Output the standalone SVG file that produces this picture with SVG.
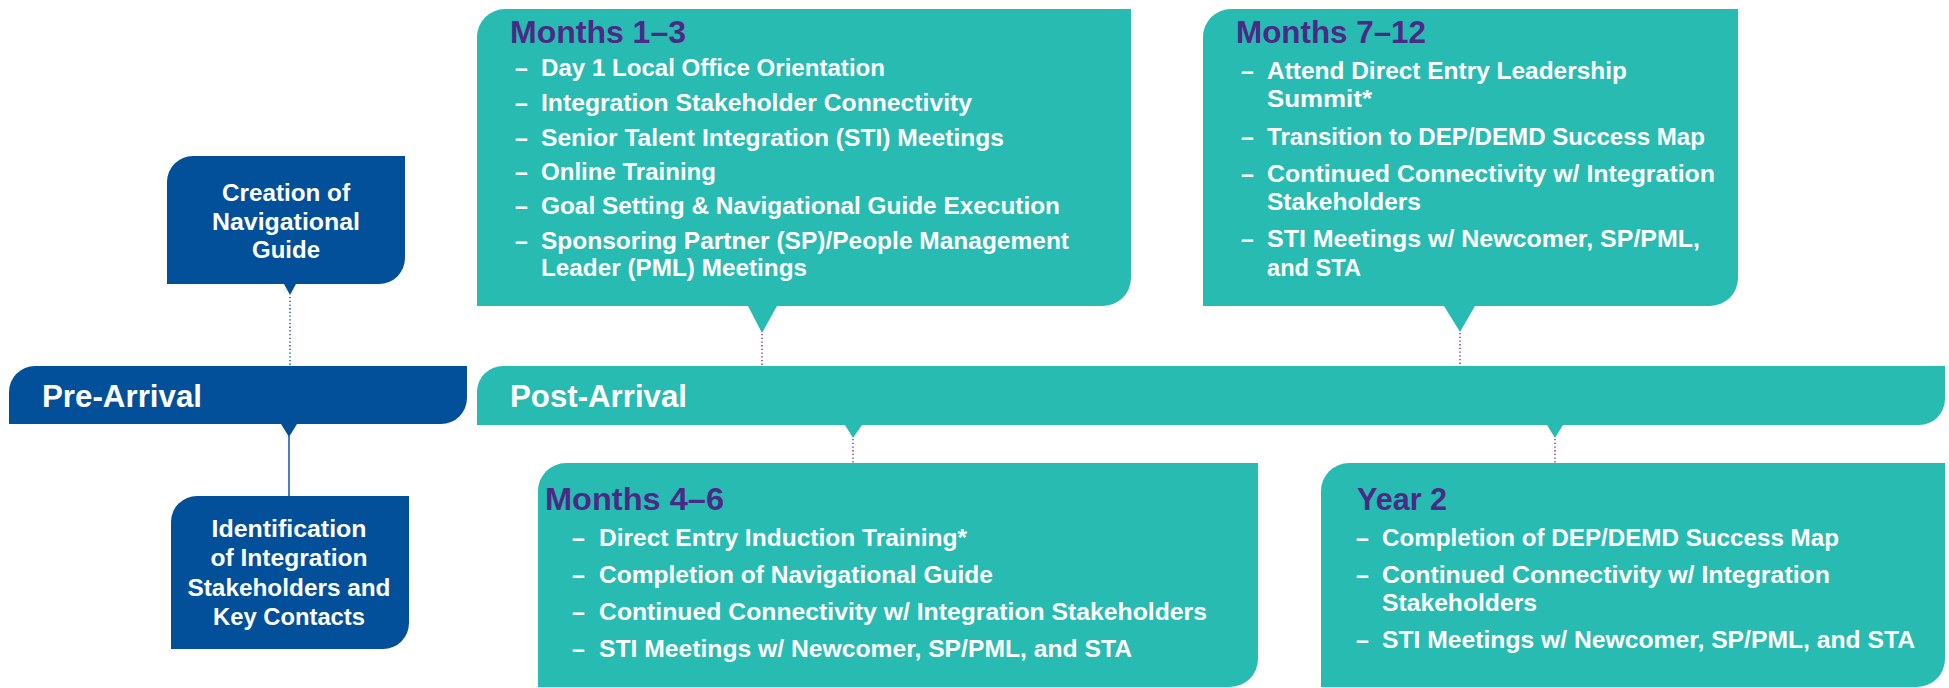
<svg xmlns="http://www.w3.org/2000/svg" width="1949" height="688" viewBox="0 0 1949 688">
<style>
.blue{fill:#02509A}
.teal{fill:#28BBB2}
.t{font-family:"Liberation Sans",Arial,sans-serif;font-weight:bold;fill:#fff}
.h{font-family:"Liberation Sans",Arial,sans-serif;font-weight:bold;font-size:32px;fill:#4B2A87}
.b{font-size:23px}
.c{font-size:24px;text-anchor:middle}
.bar{font-size:31px}
.dotb{stroke:#1F63B0;stroke-width:1.6;stroke-dasharray:1.3 2.4;fill:none}
.dotp{stroke:#8B3FA0;stroke-width:1.6;stroke-dasharray:1.3 2.4;fill:none}
.solid{stroke:#1F5FA8;stroke-width:1.6;fill:none}
</style>
<rect width="1949" height="688" fill="#fff"/>
<g id="connectors">
<line class="dotb" x1="290" y1="297" x2="290" y2="366"/>
<line class="solid" x1="289" y1="436" x2="289" y2="496"/>
<line class="dotp" x1="762" y1="334" x2="762" y2="366"/>
<line class="dotp" x1="1460" y1="333" x2="1460" y2="366"/>
<line class="dotp" x1="853" y1="439" x2="853" y2="463"/>
<line class="dotp" x1="1555" y1="439" x2="1555" y2="463"/>
</g>
<g id="creation">
<path class="blue" d="M167,182 A26,26 0 0 1 193,156 H405 V258 A26,26 0 0 1 379,284 H296 L290,295 L284,284 H167 Z"/>
<text class="t c" x="286" y="201" textLength="128" lengthAdjust="spacingAndGlyphs">Creation of</text>
<text class="t c" x="286" y="230" textLength="148" lengthAdjust="spacingAndGlyphs">Navigational</text>
<text class="t c" x="286" y="258" textLength="68" lengthAdjust="spacingAndGlyphs">Guide</text>
</g>
<g id="pre-arrival">
<path class="blue" d="M9,392 A26,26 0 0 1 35,366 H467 V398 A26,26 0 0 1 441,424 H297 L289,437 L281,424 H9 Z"/>
<text class="t bar" x="42" y="407" textLength="160" lengthAdjust="spacingAndGlyphs">Pre-Arrival</text>
</g>
<g id="identification">
<path class="blue" d="M171,522 A26,26 0 0 1 197,496 H409 V623 A26,26 0 0 1 383,649 H171 Z"/>
<text class="t c" x="289" y="537" textLength="155" lengthAdjust="spacingAndGlyphs">Identification</text>
<text class="t c" x="289" y="566" textLength="157" lengthAdjust="spacingAndGlyphs">of Integration</text>
<text class="t c" x="289" y="596" textLength="203" lengthAdjust="spacingAndGlyphs">Stakeholders and</text>
<text class="t c" x="289" y="625" textLength="152" lengthAdjust="spacingAndGlyphs">Key Contacts</text>
</g>
<g id="post-arrival">
<path class="teal" d="M477,392 A26,26 0 0 1 503,366 H1945 V399 A26,26 0 0 1 1919,425 H1563 L1555,438 L1547,425 H862 L853,438 L845,425 H477 Z"/>
<text class="t bar" x="510" y="407" textLength="177" lengthAdjust="spacingAndGlyphs">Post-Arrival</text>
</g>
<g id="months-1-3">
<path class="teal" d="M477,37 A28,28 0 0 1 505,9 H1131 V278 A28,28 0 0 1 1103,306 H777 L762,333 L748,306 H477 Z"/>
<text class="h" x="510" y="43" textLength="176" lengthAdjust="spacingAndGlyphs">Months 1–3</text>
<g class="t b">
<text x="515" y="76">–</text><text x="541" y="76" textLength="344" lengthAdjust="spacingAndGlyphs">Day 1 Local Office Orientation</text>
<text x="515" y="111">–</text><text x="541" y="111" textLength="431" lengthAdjust="spacingAndGlyphs">Integration Stakeholder Connectivity</text>
<text x="515" y="146">–</text><text x="541" y="146" textLength="463" lengthAdjust="spacingAndGlyphs">Senior Talent Integration (STI) Meetings</text>
<text x="515" y="180">–</text><text x="541" y="180" textLength="175" lengthAdjust="spacingAndGlyphs">Online Training</text>
<text x="515" y="214">–</text><text x="541" y="214" textLength="519" lengthAdjust="spacingAndGlyphs">Goal Setting &amp; Navigational Guide Execution</text>
<text x="515" y="249">–</text><text x="541" y="249" textLength="528" lengthAdjust="spacingAndGlyphs">Sponsoring Partner (SP)/People Management</text>
<text x="541" y="276" textLength="266" lengthAdjust="spacingAndGlyphs">Leader (PML) Meetings</text>
</g>
</g>
<g id="months-7-12">
<path class="teal" d="M1203,37 A28,28 0 0 1 1231,9 H1738 V278 A28,28 0 0 1 1710,306 H1475 L1460,332 L1444,306 H1203 Z"/>
<text class="h" x="1236" y="43" textLength="190" lengthAdjust="spacingAndGlyphs">Months 7–12</text>
<g class="t b">
<text x="1241" y="79">–</text><text x="1267" y="79" textLength="360" lengthAdjust="spacingAndGlyphs">Attend Direct Entry Leadership</text>
<text x="1267" y="107" textLength="105" lengthAdjust="spacingAndGlyphs">Summit*</text>
<text x="1241" y="145">–</text><text x="1267" y="145" textLength="438" lengthAdjust="spacingAndGlyphs">Transition to DEP/DEMD Success Map</text>
<text x="1241" y="182">–</text><text x="1267" y="182" textLength="448" lengthAdjust="spacingAndGlyphs">Continued Connectivity w/ Integration</text>
<text x="1267" y="210" textLength="154" lengthAdjust="spacingAndGlyphs">Stakeholders</text>
<text x="1241" y="247">–</text><text x="1267" y="247" textLength="433" lengthAdjust="spacingAndGlyphs">STI Meetings w/ Newcomer, SP/PML,</text>
<text x="1267" y="276" textLength="94" lengthAdjust="spacingAndGlyphs">and STA</text>
</g>
</g>
<g id="months-4-6">
<path class="teal" d="M538,491 A28,28 0 0 1 566,463 H1258 V659 A28,28 0 0 1 1230,687 H538 Z"/>
<text class="h" x="545" y="510" textLength="179" lengthAdjust="spacingAndGlyphs">Months 4–6</text>
<g class="t b">
<text x="572" y="546">–</text><text x="599" y="546" textLength="368" lengthAdjust="spacingAndGlyphs">Direct Entry Induction Training*</text>
<text x="572" y="583">–</text><text x="599" y="583" textLength="394" lengthAdjust="spacingAndGlyphs">Completion of Navigational Guide</text>
<text x="572" y="620">–</text><text x="599" y="620" textLength="608" lengthAdjust="spacingAndGlyphs">Continued Connectivity w/ Integration Stakeholders</text>
<text x="572" y="657">–</text><text x="599" y="657" textLength="533" lengthAdjust="spacingAndGlyphs">STI Meetings w/ Newcomer, SP/PML, and STA</text>
</g>
</g>
<g id="year-2">
<path class="teal" d="M1321,491 A28,28 0 0 1 1349,463 H1945 V659 A28,28 0 0 1 1917,687 H1321 Z"/>
<text class="h" x="1357" y="510" textLength="90" lengthAdjust="spacingAndGlyphs">Year 2</text>
<g class="t b">
<text x="1356" y="546">–</text><text x="1382" y="546" textLength="457" lengthAdjust="spacingAndGlyphs">Completion of DEP/DEMD Success Map</text>
<text x="1356" y="583">–</text><text x="1382" y="583" textLength="448" lengthAdjust="spacingAndGlyphs">Continued Connectivity w/ Integration</text>
<text x="1382" y="611" textLength="155" lengthAdjust="spacingAndGlyphs">Stakeholders</text>
<text x="1356" y="648">–</text><text x="1382" y="648" textLength="533" lengthAdjust="spacingAndGlyphs">STI Meetings w/ Newcomer, SP/PML, and STA</text>
</g>
</g>
</svg>
